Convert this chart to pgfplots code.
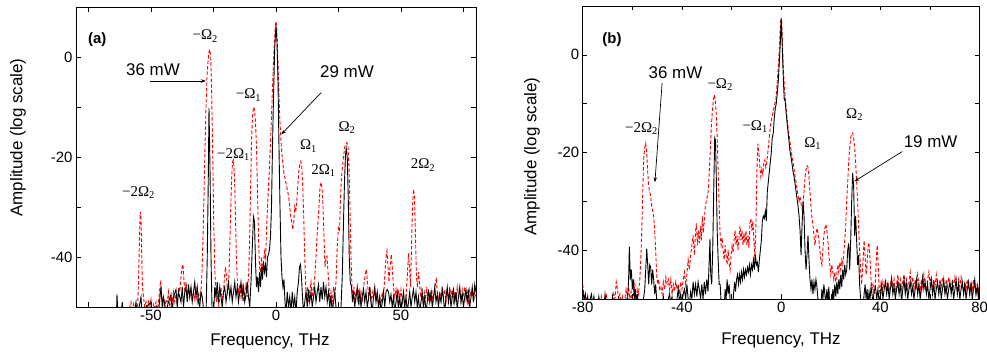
\documentclass[border=0pt]{standalone}
\usepackage{fontspec}
\setmainfont{Liberation Sans}
\newfontfamily\omfont{Liberation Serif}
\usepackage{pgfplots}
\pgfplotsset{compat=1.18}
\usetikzlibrary{arrows.meta}
\newcommand{\om}[1]{{\omfont\fontsize{15}{17}\selectfont #1}}
\begin{document}
\begin{tikzpicture}
\useasboundingbox (0,0) rectangle (987bp,356bp);
\pgfplotsset{
  myax/.style={
    scale only axis,
    xmin=-80, xmax=80, ymin=-50, ymax=10,
    ytick={-40,-20,0}, minor ytick={-30,-10},
    tick align=inside, tick pos=both,
    major tick length=4.5bp, minor tick length=4.5bp,
    every tick/.style={black, line width=0.6bp},
    axis line style={line width=0.8bp},
    tick label style={font=\fontsize{15}{18}\selectfont},
    /pgf/number format/assume math mode=true,
    clip=true,
  },
  redl/.style={red, line width=0.9bp, dash pattern=on 3.5bp off 2bp},
  blkl/.style={black, line width=0.9bp},
}
% ---------------- panel (a)
\begin{axis}[myax, at={(76bp,49bp)}, anchor=south west, width=400bp, height=300bp,
  xtick={-50,0,50}, minor xtick={-75,-25,25,75},
  xlabel={Frequency, THz}, ylabel={Amplitude (log scale)},
  every axis x label/.style={at={(axis description cs:0.485,-0.116)}, anchor=center, font=\fontsize{17}{20}\selectfont},
  every axis y label/.style={at={(axis description cs:-0.145,0.565)}, anchor=center, rotate=90, font=\fontsize{17}{20}\selectfont},
]
\addplot[redl] coordinates {
(-80,-55) (-62,-55) (-61.5,-49.5) (-61,-52) (-59,-52) (-58.5,-50) (-58,-49) (-57.5,-51) (-57,-49.5) (-56.5,-52) (-55.5,-52)
(-55,-45) (-54.6,-36) (-54.3,-31) (-54,-32) (-53.7,-40) (-53.4,-46) (-53,-48) (-52.5,-50) (-52,-49) (-51.5,-51) (-51,-49)
(-50.5,-50) (-50,-48.5) (-49.5,-51) (-49,-49.5) (-48.5,-50.5) (-48,-49) (-47.5,-51) (-47,-49) (-46.4,-46) (-46.1,-44.7)
(-45.8,-47) (-45.4,-50) (-45,-48) (-44.5,-50) (-44,-48.5) (-43.5,-49) (-43,-47) (-42.5,-50) (-42,-48) (-41.5,-49) (-41,-47)
(-40.5,-49) (-40,-47.5) (-39.5,-49.5) (-39,-46) (-38.5,-47) (-38,-44) (-37.6,-42) (-37.2,-41.5) (-36.8,-45) (-36.4,-47)
(-36,-45) (-35.5,-47.5) (-35,-46) (-34.5,-48) (-34,-46.5) (-33.5,-49) (-33,-47) (-32.5,-48.5) (-32,-46) (-31.5,-49) (-31,-47)
(-30.5,-49) (-30,-47) (-29.6,-43) (-29.2,-36) (-28.8,-28) (-28.4,-18) (-28,-10) (-27.6,-4) (-27.2,-1) (-26.8,1) (-26.5,1.5)
(-26.1,0) (-25.7,-8) (-25.3,-20) (-24.9,-33) (-24.5,-42) (-24.1,-47) (-23.7,-49) (-23.3,-47) (-22.9,-50) (-22.5,-48) (-22,-46)
(-21.5,-49) (-21,-47) (-20.6,-44) (-20.2,-42) (-19.8,-44) (-19.4,-47) (-19,-46) (-18.6,-40) (-18.2,-32) (-17.8,-25) (-17.4,-21)
(-17,-20.6) (-16.6,-24) (-16.2,-32) (-15.8,-41) (-15.4,-45.5) (-15,-47) (-14.5,-45.5) (-14,-48) (-13.5,-46) (-13,-49)
(-12.5,-47) (-12,-45.5) (-11.5,-48) (-11,-44) (-10.6,-38) (-10.2,-27) (-9.8,-17) (-9.4,-12) (-9,-10) (-8.6,-10.5) (-8.2,-13)
(-7.8,-18) (-7.4,-27) (-7,-36) (-6.6,-42) (-6.2,-43) (-5.8,-40) (-5.4,-42.5) (-5,-41) (-4.6,-39) (-4.2,-40.5) (-3.8,-35)
(-3.4,-30) (-3,-26) (-2.6,-22) (-2.2,-17) (-1.8,-12) (-1.4,-6) (-1,-1) (-0.6,3.5) (-0.2,6.5) (0,7.1) (0.3,6) (0.7,0) (1.1,-6)
(1.5,-12) (1.9,-16) (2.3,-19) (2.7,-21) (3.1,-23) (3.5,-24) (3.9,-25) (4.3,-26) (4.7,-27) (5.1,-28) (5.5,-30) (5.9,-32)
(6.3,-33) (6.7,-34.5) (7.1,-33) (7.5,-30) (7.9,-31) (8.3,-29) (8.7,-26) (9.1,-23) (9.5,-21.5) (9.9,-20.9) (10.3,-22)
(10.7,-26) (11.1,-32) (11.5,-40) (11.9,-46) (12.3,-48) (12.7,-46) (13.1,-49) (13.5,-47) (14,-45) (14.5,-48) (15,-46)
(15.5,-44) (16,-40) (16.4,-36) (16.8,-33) (17.2,-30) (17.6,-26) (18,-25.1) (18.4,-26) (18.8,-30) (19.2,-36) (19.6,-42)
(20,-40) (20.4,-39.8) (20.8,-43) (21.2,-46) (21.6,-49) (22,-47) (22.5,-49) (23,-46) (23.5,-48) (24,-45) (24.5,-38) (25,-33.8)
(25.4,-35) (25.8,-28) (26.2,-24) (26.6,-22) (27,-20) (27.5,-18) (28,-17.3) (28.4,-17.1) (28.8,-18) (29.2,-22) (29.6,-30)
(30,-40) (30.4,-46) (30.8,-48) (31.2,-46) (31.6,-49) (32,-47) (32.5,-48.5) (33,-46.5) (33.5,-49) (34,-47) (34.5,-49) (35,-46)
(35.6,-44) (36.1,-42.5) (36.6,-45) (37,-48) (37.5,-46) (38,-49) (38.5,-47) (39,-48.5) (39.5,-46.5) (40,-49) (40.5,-47)
(41,-50) (41.5,-48) (42,-49.5) (42.5,-47) (43,-48) (43.5,-44) (44,-40) (44.4,-38.8) (44.8,-42) (45.2,-45) (45.6,-42)
(46.1,-39.5) (46.5,-42) (47,-46) (47.5,-48) (48,-46.5) (48.5,-49) (49,-47) (49.5,-48.5) (50,-46.5) (50.5,-49) (51,-47.5)
(51.5,-50) (52,-48) (52.5,-44) (53,-39.3) (53.4,-42) (53.8,-46) (54.2,-38) (54.6,-30) (55,-26.5) (55.4,-28) (55.8,-36)
(56.2,-44) (56.6,-46) (57,-43) (57.4,-45) (57.8,-48) (58.3,-46.5) (58.8,-49) (59.3,-47) (59.8,-48.5) (60.3,-46) (60.8,-49)
(61.3,-47) (61.8,-48.5) (62.3,-46.5) (62.8,-49) (63.3,-47) (63.8,-45.5) (64.1,-44.1) (64.5,-47) (65,-49) (65.5,-47)
(66,-48.5) (66.5,-46) (67,-48) (67.5,-46.5) (68,-49) (68.5,-47) (69,-48.5) (69.5,-46) (70,-48) (70.5,-46.5) (71,-49)
(71.5,-47) (72,-48.5) (72.5,-46) (73,-48) (73.5,-47) (74,-49) (74.5,-46.5) (75,-48) (75.5,-46) (76,-48.5) (76.5,-47)
(77,-49) (77.5,-46.5) (78,-48) (78.5,-47) (79,-49) (79.5,-47) (80,-48)
};
\addplot[blkl] coordinates {
(-80,-55) (-64,-55) (-63.6,-47.5) (-63.2,-52) (-62,-52) (-61.5,-49) (-61,-52) (-57,-52) (-56,-49) (-55.5,-52) (-54,-48)
(-53.5,-52) (-52,-50) (-50,-49) (-49.5,-52) (-48,-50) (-47,-51) (-46,-46) (-45.5,-50) (-45,-48) (-44,-51) (-43,-49)
(-42,-47.5) (-41.5,-51) (-41,-48) (-40,-46.5) (-39.5,-50) (-39,-47) (-38,-49) (-37.5,-46) (-37,-50) (-36.5,-47) (-36,-46)
(-35.5,-49) (-35,-45.5) (-34.5,-48) (-34,-46) (-33.5,-49) (-33,-47) (-32.5,-45) (-32,-48) (-31.5,-46) (-31,-49) (-30.5,-50)
(-30,-47) (-29.5,-48) (-29,-50.5) (-28.5,-52) (-28,-52) (-27.5,-40) (-27.1,-25) (-26.8,-10.2) (-26.4,-22) (-26,-40)
(-25.6,-50) (-25,-52) (-24.5,-46) (-24,-48) (-23.5,-45) (-23,-49) (-22.5,-46) (-22,-48) (-21.5,-50) (-21,-47) (-20.5,-46)
(-20,-49) (-19.5,-47) (-19,-45) (-18.5,-48) (-18,-46) (-17.5,-49) (-17,-47) (-16.5,-45) (-16,-48) (-15.5,-46) (-15,-49)
(-14.5,-47) (-14,-45) (-13.5,-48) (-13,-46) (-12.5,-49) (-12,-47.5) (-11.5,-45) (-11,-48) (-10.5,-50) (-10,-45) (-9.4,-37)
(-9,-32) (-8.6,-33) (-8.2,-41) (-7.8,-46) (-7.4,-44) (-7,-47) (-6.6,-43) (-6.2,-46) (-5.8,-42) (-5.4,-44.5) (-5,-41)
(-4.6,-43) (-4.2,-41.5) (-3.8,-44) (-3.4,-40) (-3,-39.5) (-2.6,-38.5) (-2.2,-36) (-1.8,-30) (-1.4,-18) (-1,-8) (-0.5,2)
(0,6.2) (0.4,3) (0.8,-5) (1.2,-18) (1.6,-30) (2,-40) (2.4,-44) (2.8,-46) (3.2,-44.5) (3.6,-49) (4,-51) (4.5,-47) (5,-50)
(5.5,-48) (6,-51) (6.5,-47) (7,-50) (7.5,-48) (8,-51) (8.5,-47) (9,-45) (9.4,-42) (9.8,-41.5) (10.2,-44) (10.6,-48) (11,-51)
(11.5,-49) (12,-47) (12.5,-50) (13,-46.5) (13.5,-49) (14,-47) (14.5,-50) (15,-48) (15.5,-46) (16,-49) (16.5,-47) (17,-45.5)
(17.5,-49) (18,-46) (18.5,-48.5) (19,-45) (19.5,-48) (20,-46) (20.5,-49) (21,-47) (21.5,-50) (22,-48) (22.5,-51) (23,-49)
(23.5,-47) (24,-50) (24.5,-52) (25.5,-52) (26,-50) (26.5,-44) (27,-33) (27.4,-25) (27.8,-19.5) (28.1,-18.3) (28.5,-20)
(28.9,-28) (29.3,-40) (29.7,-45) (30.2,-46) (30.6,-49) (31,-47) (31.5,-50) (32,-48) (32.5,-46) (33,-49) (33.5,-47) (34,-50)
(34.5,-48) (35,-46.5) (35.5,-49) (36,-47) (36.5,-50) (37,-48.5) (37.5,-46) (38,-49) (38.5,-51) (39,-48) (39.5,-46) (40,-49)
(40.5,-47) (41,-50) (41.5,-48) (42,-51) (42.5,-49) (43,-47) (43.5,-50) (44,-47) (44.5,-46.5) (45,-47) (45.5,-49) (46,-47.5)
(46.5,-50) (47,-48) (47.5,-51) (48,-49) (48.5,-47) (49,-50) (49.5,-48) (50,-51) (50.5,-49) (51,-47) (51.5,-50) (52,-48)
(52.5,-51) (53,-49) (53.5,-47) (54,-50) (54.5,-48) (55,-46.5) (55.5,-49) (56,-47) (56.5,-50) (57,-48) (57.5,-51) (58,-49)
(58.5,-47) (59,-50) (59.5,-48) (60,-51) (60.5,-49) (61,-46.5) (61.5,-49) (62,-47) (62.5,-50) (63,-48) (63.5,-46) (64,-49)
(64.5,-47.5) (65,-50) (65.5,-47.5) (66,-49) (66.5,-46.5) (67,-48.5) (67.5,-51) (68,-48) (68.5,-46) (69,-49) (69.5,-47)
(70,-50) (70.5,-48) (71,-46.5) (71.5,-49) (72,-47) (72.5,-50.5) (73,-48) (73.5,-46) (74,-49) (74.5,-47.5) (75,-50) (75.5,-48)
(76,-46.5) (76.5,-49) (77,-47) (77.5,-50) (78,-48) (78.5,-46) (79,-49) (79.5,-45.5) (80,-47)
};
\node[font=\fontsize{15}{18}\selectfont\bfseries] at (axis cs:-71.5,3.5) {(a)};
\node at (axis cs:-28.3,4.2) {\om{−Ω\textsubscript{2}}};
\node at (axis cs:-11,-7.6) {\om{−Ω\textsubscript{1}}};
\node at (axis cs:-17,-19.5) {\om{−2Ω\textsubscript{1}}};
\node at (axis cs:13,-17.8) {\om{Ω\textsubscript{1}}};
\node at (axis cs:19,-22.7) {\om{2Ω\textsubscript{1}}};
\node at (axis cs:28.4,-14.1) {\om{Ω\textsubscript{2}}};
\node at (axis cs:58.8,-21.6) {\om{2Ω\textsubscript{2}}};
\node at (axis cs:-55,-27.1) {\om{−2Ω\textsubscript{2}}};
\node[font=\fontsize{17}{20}\selectfont] at (axis cs:-49.2,-2.5) {36 mW};
\node[font=\fontsize{17}{20}\selectfont] at (axis cs:28.4,-3) {29 mW};
\draw[line width=0.7bp, -{Stealth[length=5bp,width=3.5bp]}] (axis cs:-50.3,-4.8) -- (axis cs:-28,-4.8);
\draw[line width=0.7bp, -{Stealth[length=5bp,width=3.5bp]}] (axis cs:18.1,-7.1) -- (axis cs:2.1,-15.5);
\end{axis}
% ---------------- panel (b)
\begin{axis}[myax, at={(582.7bp,57bp)}, anchor=south west, width=397bp, height=293bp,
  xtick={-80,-40,0,40,80}, minor xtick={-60,-20,20,60},
  xlabel={Frequency, THz}, ylabel={Amplitude (log scale)},
  every axis x label/.style={at={(axis description cs:0.4995,-0.14)}, anchor=center, font=\fontsize{17}{20}\selectfont},
  every axis y label/.style={at={(axis description cs:-0.128,0.486)}, anchor=center, rotate=90, font=\fontsize{17}{20}\selectfont},
]
\addplot[redl] coordinates {
(-80,-47) (-79.6,-49) (-79.2,-50.5) (-78.8,-49) (-78.4,-51) (-78,-50) (-77.6,-52) (-76,-52) (-75.5,-50) (-75,-52) (-73,-52)
(-72.5,-49.5) (-72,-51) (-71,-51) (-70.5,-49) (-70,-51.5) (-68,-51.5) (-67.5,-49) (-67,-50) (-66.5,-46.5) (-66,-48)
(-65.5,-50) (-65,-49) (-64.5,-51) (-64,-49.5) (-63.5,-51) (-63,-50) (-62.5,-48) (-62,-49.5) (-61.5,-47.5) (-61,-50)
(-60.5,-48.5) (-60,-51) (-59.5,-49) (-59,-47) (-58.5,-50) (-58,-48) (-57.5,-49) (-57,-46) (-56.6,-42) (-56.2,-36) (-55.8,-28)
(-55.4,-21) (-55,-19) (-54.6,-18.1) (-54.2,-20) (-53.8,-24) (-53.4,-27) (-53,-28) (-52.6,-29) (-52.2,-31) (-51.8,-32)
(-51.4,-33) (-51,-36) (-50.6,-40) (-50.2,-45) (-49.8,-47) (-49.4,-46) (-49,-48) (-48.5,-47.5) (-48,-49) (-47.5,-46.5)
(-47,-48) (-46.5,-45.5) (-46,-47) (-45.5,-46) (-45,-48) (-44.5,-46) (-44,-49) (-43.5,-47) (-43,-48.5) (-42.5,-46.5) (-42,-48)
(-41.5,-47) (-41,-49) (-40.5,-46.5) (-40,-48) (-39.5,-46) (-39,-44.5) (-38.5,-47) (-38,-45) (-37.5,-42) (-37,-44) (-36.5,-41)
(-36,-39) (-35.5,-37) (-35,-41) (-34.5,-36) (-34.2,-34.5) (-33.8,-39) (-33.4,-36) (-33,-38.5) (-32.6,-35) (-32.2,-38)
(-31.8,-33) (-31.4,-36.5) (-31,-34) (-30.6,-31) (-30.2,-30) (-29.8,-29) (-29.4,-27.9) (-29,-24) (-28.6,-20) (-28.2,-15)
(-27.8,-12) (-27.4,-9.5) (-27,-8.2) (-26.6,-9) (-26.2,-12) (-25.8,-17) (-25.4,-24) (-25,-31) (-24.6,-37) (-24.2,-39)
(-23.8,-37.5) (-23.4,-40) (-23,-42) (-22.6,-39) (-22.2,-41) (-21.8,-43) (-21.4,-40) (-21,-42.5) (-20.6,-44) (-20.2,-41)
(-19.8,-39) (-19.4,-40.5) (-19,-38) (-18.6,-36) (-18.2,-39) (-17.8,-37) (-17.4,-40) (-17,-37.5) (-16.6,-35) (-16.2,-38)
(-15.8,-36) (-15.4,-39) (-15,-36.5) (-14.6,-38.5) (-14.2,-36) (-13.8,-39) (-13.4,-37) (-13,-39.5) (-12.6,-34.5) (-12.2,-33.5)
(-11.8,-36) (-11.4,-34) (-11,-38) (-10.6,-42) (-10.2,-35) (-9.8,-24) (-9.4,-18.2) (-9,-20) (-8.6,-23) (-8.2,-25) (-7.8,-23.5)
(-7.4,-24.5) (-7,-22) (-6.6,-21.5) (-6.2,-23) (-5.8,-22) (-5.4,-20) (-5,-18) (-4.6,-16) (-4.2,-14) (-3.8,-13) (-3.4,-12)
(-3,-11) (-2.6,-10) (-2.2,-9.5) (-1.8,-7) (-1.4,-4) (-1,-1) (-0.6,3) (-0.2,7) (0.1,7.3) (0.4,4) (0.8,-2) (1.2,-6) (1.6,-8.5)
(2,-11) (2.4,-13) (2.8,-15) (3.2,-16.5) (3.6,-18) (4,-19.5) (4.4,-21) (4.8,-22) (5.2,-23.5) (5.6,-25) (6,-26) (6.4,-27.5)
(6.8,-29) (7.2,-30) (7.6,-29) (8,-30.5) (8.4,-31.5) (8.8,-30.5) (9.2,-28) (9.6,-25) (10,-23.5) (10.4,-22.7) (10.8,-23)
(11.2,-25) (11.6,-28) (12,-31) (12.4,-33.5) (12.8,-35) (13.2,-37) (13.6,-39) (14,-37) (14.4,-35.5) (14.8,-36.4) (15.2,-38)
(15.6,-40) (16,-42) (16.4,-43) (16.8,-40) (17.2,-37) (17.6,-35.5) (18,-34.7) (18.4,-36) (18.8,-38) (19.2,-41) (19.6,-43)
(20,-45) (20.4,-43) (20.8,-44.5) (21.2,-46) (21.6,-44.5) (22,-46.5) (22.4,-45) (22.8,-43) (23.2,-44.5) (23.6,-42.5) (24,-44)
(24.4,-42) (24.8,-43) (25.2,-41) (25.6,-38) (26,-35) (26.4,-30) (26.8,-26) (27.2,-22) (27.6,-19) (28,-17) (28.4,-16.1)
(28.8,-16) (29.2,-17) (29.6,-19) (30,-22) (30.4,-26) (30.8,-30) (31.2,-35) (31.6,-40) (32,-44) (32.4,-47) (32.8,-44)
(33.2,-40) (33.4,-38) (33.8,-41) (34.2,-45) (34.6,-43) (35,-39) (35.4,-38.5) (35.8,-42) (36.2,-46) (36.6,-48) (37,-47)
(37.5,-49) (38,-46) (38.4,-41) (38.7,-39) (39,-42) (39.4,-47) (39.8,-49) (40.2,-47) (40.6,-49) (41,-46.5) (41.5,-48) (42,-46)
(42.5,-48) (43,-46.5) (43.5,-48.5) (44,-47) (44.5,-45.5) (45,-48) (45.5,-46) (46,-48.5) (46.5,-47) (47,-45) (47.5,-47.5)
(48,-46) (48.5,-48) (49,-46.5) (49.5,-45) (50,-47.5) (50.5,-46) (51,-48) (51.5,-46.5) (52,-44.5) (52.5,-47) (53,-45.5)
(53.5,-48) (54,-46) (54.5,-47.5) (55,-45) (55.5,-47) (56,-48.5) (56.5,-46) (57,-47.5) (57.5,-45) (58,-47) (58.5,-48.5)
(59,-46) (59.5,-44.5) (60,-47) (60.5,-45.5) (61,-48) (61.5,-46) (62,-47.5) (62.5,-45) (63,-47) (63.5,-48.5) (64,-46)
(64.5,-47.5) (65,-45.5) (65.5,-47) (66,-48.5) (66.5,-46) (67,-47.5) (67.5,-45.5) (68,-47) (68.5,-48) (69,-46) (69.5,-47.5)
(70,-45.5) (70.5,-47) (71,-48.5) (71.5,-46) (72,-47.5) (72.5,-45.5) (73,-47) (73.5,-48.5) (74,-46.5) (74.5,-48) (75,-46)
(75.5,-47.5) (76,-49) (76.5,-46.5) (77,-48) (77.5,-46) (78,-47.5) (78.5,-49) (79,-47) (79.5,-48.5) (80,-47)
};
\addplot[blkl] coordinates {
(-80,-48) (-79.5,-50) (-79,-49) (-78.5,-51) (-78,-49.5) (-77.5,-52) (-77,-50) (-76.5,-49) (-76,-51) (-75.5,-49.5) (-75,-52)
(-74,-52) (-73.5,-49.5) (-73,-51) (-72.5,-52) (-71.5,-52) (-71,-49) (-70.5,-51) (-69.5,-52) (-68.5,-52) (-68,-49.5)
(-67.5,-52) (-66,-52) (-65.5,-50) (-65,-52) (-63,-52) (-62.5,-50) (-62,-51) (-61.5,-46) (-61.2,-39.3) (-60.8,-46) (-60.4,-44)
(-60,-48) (-59.6,-46) (-59.2,-50) (-58.8,-48) (-58.4,-51) (-58,-49) (-57.5,-52) (-56,-52) (-55.5,-50) (-55,-48) (-54.6,-44)
(-54.2,-39.7) (-53.8,-43) (-53.4,-47) (-53,-43) (-52.6,-43.5) (-52.2,-47) (-51.8,-44) (-51.4,-46) (-51,-49) (-50.6,-47)
(-50.2,-50) (-49.8,-52) (-48,-52) (-47.5,-49.5) (-47,-52) (-46,-52) (-45.5,-50) (-45,-49) (-44.5,-51) (-44,-49.5) (-43.5,-52)
(-42.5,-52) (-42,-50) (-41.5,-48) (-41,-50.5) (-40.5,-49) (-40,-51) (-39.5,-49) (-39,-48) (-38.5,-50) (-38,-47) (-37.5,-50)
(-37,-51) (-36.5,-48.5) (-36,-50) (-35.5,-46.5) (-35,-49) (-34.5,-47) (-34,-49.5) (-33.5,-46.5) (-33,-48) (-32.5,-50)
(-32,-47) (-31.5,-50) (-31,-46.5) (-30.5,-49) (-30,-46) (-29.5,-48.5) (-29,-42) (-28.7,-37.7) (-28.4,-45) (-28,-47)
(-27.6,-40) (-27.2,-28) (-26.8,-17) (-26.5,-17.5) (-26.2,-24) (-25.8,-36) (-25.4,-42) (-25,-47) (-24.6,-47) (-24.2,-51)
(-23.8,-52) (-23,-52) (-22.6,-48) (-22.2,-50) (-21.8,-46) (-21.4,-49) (-21,-47) (-20.6,-50) (-20.2,-52) (-19.6,-52)
(-19.2,-49) (-18.8,-46.5) (-18.4,-48.5) (-18,-46) (-17.6,-45) (-17.2,-47) (-16.8,-45) (-16.4,-46.5) (-16,-44.5) (-15.6,-46)
(-15.2,-44) (-14.8,-45.5) (-14.4,-44) (-14,-45) (-13.6,-43.5) (-13.2,-44.5) (-12.8,-43) (-12.4,-45) (-12,-43) (-11.6,-44)
(-11.2,-42) (-10.8,-44) (-10.4,-41) (-10,-43) (-9.6,-42.5) (-9.2,-44.5) (-8.8,-42) (-8.4,-40) (-8,-38) (-7.6,-34) (-7.2,-33)
(-6.8,-33.5) (-6.4,-32) (-6,-34) (-5.6,-28) (-5.2,-26) (-4.8,-24) (-4.4,-22) (-4,-20) (-3.6,-17) (-3.2,-16) (-2.8,-13)
(-2.4,-11) (-2,-10) (-1.6,-8) (-1.2,-5.5) (-0.8,-2) (-0.4,2) (0,7.5) (0.4,2) (0.8,-4) (1.2,-9) (1.6,-9.5) (2,-12) (2.4,-14)
(2.8,-16) (3.2,-18) (3.6,-20) (4,-21) (4.4,-22.5) (4.8,-24) (5.2,-25) (5.6,-26.5) (6,-28) (6.4,-29.5) (6.8,-31) (7.2,-33)
(7.6,-36) (8,-41) (8.4,-35) (8.8,-30) (9.2,-33) (9.6,-40) (10,-44) (10.4,-41) (10.8,-37) (11.2,-42) (11.6,-46) (12,-48)
(12.4,-46) (12.8,-49) (13.2,-46.5) (13.6,-48) (14,-46) (14.4,-47.5) (14.8,-50) (15.2,-52) (16,-52) (16.4,-48) (16.8,-50)
(17.2,-47) (17.6,-49) (18,-51) (18.4,-48) (18.8,-50.5) (19.2,-47.5) (19.6,-52) (20.4,-52) (20.8,-48) (21.2,-50) (21.6,-47)
(22,-49.5) (22.4,-46.5) (22.8,-49) (23.2,-46) (23.6,-48) (24,-45) (24.4,-47.5) (24.8,-44) (25.2,-46) (25.6,-43) (26,-45)
(26.4,-44) (26.8,-40) (27.2,-38.6) (27.6,-44) (28,-38) (28.4,-30) (28.8,-24.2) (29.2,-27) (29.6,-37) (30,-33) (30.4,-38)
(30.8,-43) (31.2,-41) (31.6,-47) (32,-50) (32.4,-52) (33,-52) (33.4,-49) (33.8,-47) (34.2,-50) (34.6,-48) (35,-51)
(35.4,-48.5) (35.8,-50) (36.2,-47.5) (36.6,-49) (37,-51) (37.4,-48.5) (38,-47.5) (38.5,-50) (39,-48) (39.5,-51) (40,-49)
(40.5,-47) (41,-50) (41.5,-48) (42,-46.5) (42.5,-49) (43,-47) (43.5,-50) (44,-48) (44.5,-46) (45,-49) (45.5,-47.5) (46,-50)
(46.5,-48) (47,-46.5) (47.5,-49) (48,-47) (48.5,-50.5) (49,-48) (49.5,-46) (50,-49) (50.5,-47) (51,-50) (51.5,-48)
(52,-46.5) (52.5,-49) (53,-47.5) (53.5,-50) (54,-48) (54.5,-46) (55,-49) (55.5,-47) (56,-50) (56.5,-48) (57,-45.5) (57.5,-48)
(58,-46.5) (58.5,-49) (59,-47) (59.5,-50) (60,-48) (60.5,-46) (61,-49) (61.5,-47) (62,-50) (62.5,-48) (63,-46.5) (63.5,-49)
(64,-47) (64.5,-50) (65,-48) (65.5,-46) (66,-49) (66.5,-47.5) (67,-50) (67.5,-48) (68,-46.5) (68.5,-49) (69,-47) (69.5,-50)
(70,-48) (70.5,-46) (71,-49) (71.5,-47) (72,-50) (72.5,-48) (73,-46.5) (73.5,-49) (74,-47) (74.5,-50) (75,-48) (75.5,-46.5)
(76,-49) (76.5,-47) (77,-50) (77.5,-48) (78,-46) (78.5,-49) (79,-47.5) (79.5,-50) (80,-46)
};
\node[font=\fontsize{15}{18}\selectfont\bfseries] at (axis cs:-68.2,3.1) {(b)};
\node at (axis cs:-24.6,-6.1) {\om{−Ω\textsubscript{2}}};
\node at (axis cs:-56.3,-15.1) {\om{−2Ω\textsubscript{2}}};
\node at (axis cs:-10.5,-14.7) {\om{−Ω\textsubscript{1}}};
\node at (axis cs:12.7,-18.2) {\om{Ω\textsubscript{1}}};
\node at (axis cs:29.6,-12.3) {\om{Ω\textsubscript{2}}};
\node[font=\fontsize{17}{20}\selectfont] at (axis cs:-42.6,-3.6) {36 mW};
\node[font=\fontsize{17}{20}\selectfont] at (axis cs:60.2,-17.7) {19 mW};
\draw[line width=0.7bp, -{Stealth[length=5bp,width=3.5bp]}] (axis cs:-48,-5.8) -- (axis cs:-50.9,-26.1);
\draw[line width=0.7bp, -{Stealth[length=5bp,width=3.5bp]}] (axis cs:48.8,-19.8) -- (axis cs:29.5,-25.9);
\end{axis}
\end{tikzpicture}
\end{document}
